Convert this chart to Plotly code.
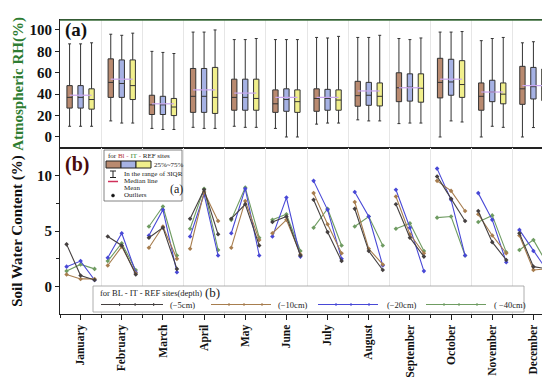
import plotly.graph_objects as go
from plotly.subplots import make_subplots

months = ["January", "February", "March", "April", "May", "June", "July",
          "August", "September", "October", "November", "December"]

# Panel (a): atmospheric RH box statistics (BL, IT, REF)
bl_hi = [87, 96, 80, 98, 91, 91, 93, 93, 92, 98, 90, 88]
bl_q3 = [48, 73, 39, 64, 54, 44, 45, 52, 60, 73.5, 50.5, 66]
bl_med = [37, 51, 30, 38, 37, 31, 36, 38.6, 46, 51, 38, 45]
bl_q1 = [27, 37, 21, 23, 25, 23, 24, 28.7, 33, 36.5, 25, 30.5]
bl_lo = [10, 15, 8, 9, 10, 8, 12, 16, 12.5, 0, 0, 0]

it_hi = [87, 95, 79, 98, 91, 91, 92.5, 93, 91, 98, 92, 89]
it_q3 = [48, 72, 38, 64, 54, 45, 44.5, 51, 59, 72.6, 53, 65]
it_med = [37, 50, 30, 38, 37, 35, 36, 39, 46.5, 51.4, 42, 47]
it_q1 = [27, 37, 21, 23, 25, 24, 25, 29.6, 33.5, 39, 33, 35.5]
it_lo = [10, 13, 7, 8, 9, 0, 13, 15, 13, 15, 10, 8.8]

ref_hi = [88, 97, 78, 100, 92, 91, 94, 95, 92.5, 98.5, 93, 89]
ref_q3 = [45, 72, 36, 65, 54, 44, 44, 50.5, 59, 71.3, 50.5, 63.5]
ref_med = [35, 48, 28, 37, 36, 33, 34.5, 38, 45.5, 49, 40, 45]
ref_q1 = [26, 35, 20, 22, 25, 23, 25, 29, 32.5, 37, 31, 34]
ref_lo = [10, 13, 7, 8, 9, 0, 13, 15, 13, 14, 9, 8]

rh_mean = [39, 54, 31, 44, 41, 37, 37, 43, 46, 54, 42, 48]

# Panel (b): soil water content per month, (BL, IT, REF) per depth
d5 = [[3.8, 1.0, 0.6], [4.5, 3.7, 1.1], [4.4, 5.3, 1.6], [6.1, 8.7, 4.7], [6.1, 7.4, 3.7], [5.8, 6.3, 2.8],
      [7.8, 4.9, 2.3], [7.0, 3.2, 1.5], [7.4, 4.4, 2.7], [9.9, 7.9, 5.9], [6.8, 4.0, 2.4], [4.8, 1.8, 1.6]]
d10 = [[1.1, 0.7, 0.7], [1.9, 3.6, 1.2], [3.5, 5.4, 2.5], [3.4, 8.5, 5.9], [3.5, 7.7, 4.2], [4.8, 6.0, 2.9],
       [8.4, 5.6, 3.0], [7.6, 3.4, 2.0], [8.1, 4.7, 3.0], [9.5, 8.6, 6.8], [6.5, 4.6, 3.0], [4.6, 1.5, 1.6]]
d20 = [[1.8, 2.3, 0.6], [2.6, 4.8, 1.3], [4.6, 6.9, 1.3], [4.5, 8.3, 2.8], [4.8, 8.8, 2.8], [4.5, 8.0, 2.7],
       [9.5, 6.9, 2.5], [8.5, 6.3, 1.9], [8.7, 5.3, 1.4], [10.6, 7.8, 2.8], [8.4, 6.0, 2.2], [5.1, 3.2, 1.4]]
d40 = [[1.4, 2.0, 1.6], [2.3, 3.9, 1.5], [5.4, 7.2, 2.8], [5.2, 8.8, 3.3], [6.0, 8.9, 4.4], [6.0, 6.5, 3.2],
       [5.3, 7.0, 3.7], [5.4, 6.3, 3.7], [5.2, 5.7, 3.2], [6.2, 6.3, 2.8], [5.8, 6.4, 3.1], [3.3, 4.2, 2.0]]
depth_names = ["(\u22125cm)", "(\u221210cm)", "(\u221220cm)", "( \u221240cm)"]
depth_colors = ["#454040", "#a77d4e", "#4848d6", "#6f9c62"]

SERIF = "Liberation Serif"
W, H = 550, 377
L, R, T, B = 52, 4, 12, 71
PW, PH = W - L - R, H - T - B


def px(x):
    return (x - L) / PW


def py(y):
    return (H - B - y) / PH


split = py(140)
fig = make_subplots(rows=2, cols=1, shared_xaxes=True, vertical_spacing=0,
                    row_heights=[1 - split, split])

nums = list(range(1, 13))
box_off = 0.267
sites = [
    (-box_off, bl_q1, bl_med, bl_q3, bl_lo, bl_hi, "#b98a70"),
    (0.0, it_q1, it_med, it_q3, it_lo, it_hi, "#a6b2e4"),
    (box_off, ref_q1, ref_med, ref_q3, ref_lo, ref_hi, "#f1ef8c"),
]
for off, q1, med, q3, lo, hi, col in sites:
    fig.add_trace(go.Box(x=[n + off for n in nums], q1=q1, median=med, q3=q3,
                         lowerfence=lo, upperfence=hi, width=0.13, whiskerwidth=0.55,
                         fillcolor=col, line=dict(color="#333333", width=1),
                         boxpoints=False, showlegend=False, hoverinfo="skip"), row=1, col=1)

mx, my = [], []
for n, m in zip(nums, rh_mean):
    mx += [n - box_off, n + box_off, None]
    my += [m, m, None]
fig.add_trace(go.Scatter(x=mx, y=my, mode="lines", line=dict(color="#c9a6ee", width=1.2),
                         showlegend=False, hoverinfo="skip"), row=1, col=1)

# Panel (b) lines
pt_off = 0.34
for idx, data in [(3, d40), (2, d20), (1, d10), (0, d5)]:
    col = depth_colors[idx]
    xs, ys = [], []
    for n, trip in zip(nums, data):
        xs += [n - pt_off, n, n + pt_off, None]
        ys += trip + [None]
    fig.add_trace(go.Scatter(x=xs, y=ys, mode="lines+markers", name=depth_names[idx],
                             line=dict(color=col, width=1.1),
                             marker=dict(color=col, size=3.5, symbol="diamond"),
                             showlegend=False), row=2, col=1)

fig.update_xaxes(range=[0.5, 12.5], tickmode="array", tickvals=nums, ticktext=months,
                 tickangle=-90, tickfont=dict(family=SERIF, size=11.5, color="#111111", weight="bold"),
                 ticks="outside", ticklen=5, tickcolor="#222", showgrid=False,
                 showline=True, linecolor="#222", linewidth=1.2, mirror=True, zeroline=False,
                 minor=dict(tickmode="linear", tick0=0.5, dtick=1, ticks="outside", ticklen=3,
                            tickcolor="#222", showgrid=True, gridcolor="#e6e6e6", gridwidth=1))
fig.update_xaxes(showticklabels=False, ticks="", minor_ticks="", row=1, col=1)

fig.update_yaxes(range=[-10.3, 109.3], tickvals=[0, 20, 40, 60, 80, 100],
                 tickfont=dict(family=SERIF, size=15, color="#111111", weight="bold"),
                 ticks="outside", ticklen=4, tickcolor="#222", showgrid=False, zeroline=False,
                 showline=True, linecolor="#222", linewidth=1.2, mirror=True,
                 title=dict(text="Atmospheric RH(%)", standoff=2,
                            font=dict(family=SERIF, size=15, color="#2e7d32", weight="bold")),
                 row=1, col=1)
fig.update_yaxes(range=[-2.45, 12.45], tickvals=[0, 5, 10],
                 tickfont=dict(family=SERIF, size=15, color="#111111", weight="bold"),
                 ticks="outside", ticklen=4, tickcolor="#222", showgrid=False, zeroline=False,
                 showline=True, linecolor="#222", linewidth=1.2, mirror=True,
                 minor=dict(tickmode="linear", tick0=0, dtick=2.5, ticks="outside", ticklen=3, tickcolor="#222"),
                 title=dict(text="Soil Water Content (%)", standoff=10,
                            font=dict(family=SERIF, size=15, color="#111111", weight="bold")),
                 row=2, col=1)

shapes = []
annots = []
shapes.append(dict(type="line", xref="paper", yref="paper", x0=0, x1=1, y0=1, y1=1,
                   line=dict(color="#3b6e3b", width=1.5)))

annots.append(dict(xref="paper", yref="paper", x=px(55), y=py(22), xanchor="left", yanchor="middle",
                   text="<b>(a)</b>", showarrow=False, font=dict(family=SERIF, size=19, color="#111")))
annots.append(dict(xref="paper", yref="paper", x=px(55), y=py(156), xanchor="left", yanchor="middle",
                   text="<b>(b)</b>", showarrow=False, font=dict(family=SERIF, size=20, color="#4a0a0a")))

# Custom key for panel (a)
shapes.append(dict(type="rect", xref="paper", yref="paper", x0=px(96), x1=px(174), y0=py(193), y1=py(142),
                   line=dict(color="#666", width=0.8), fillcolor="white"))
small = dict(family=SERIF, size=7, color="#222")
annots.append(dict(xref="paper", yref="paper", x=px(98), y=py(147.5), xanchor="left", yanchor="middle",
                   showarrow=False, font=small,
                   text="for <span style='color:#b03030'>Bl</span> <span style='color:#c05070'>-</span> "
                        "<span style='color:#3a8a3a'>IT</span> <span style='color:#c05070'>-</span> REF sites"))
for x0, col in [(98, "#b98a70"), (113, "#a6b2e4"), (128, "#f1ef8c")]:
    shapes.append(dict(type="rect", xref="paper", yref="paper", x0=px(x0), x1=px(x0 + 15),
                       y0=py(160), y1=py(153), fillcolor=col, line=dict(color="#222", width=1)))
annots.append(dict(xref="paper", yref="paper", x=px(144), y=py(156.5), xanchor="left", yanchor="middle",
                   showarrow=False, font=small, text="25%~75%"))
shapes.append(dict(type="line", xref="paper", yref="paper", x0=px(105), x1=px(105), y0=py(169.5), y1=py(163),
                   line=dict(color="#222", width=1)))
for yy in (163, 169.5):
    shapes.append(dict(type="line", xref="paper", yref="paper", x0=px(102), x1=px(108), y0=py(yy), y1=py(yy),
                       line=dict(color="#222", width=1)))
annots.append(dict(xref="paper", yref="paper", x=px(114), y=py(166), xanchor="left", yanchor="middle",
                   showarrow=False, font=small, text="In the range of 3IQR"))
shapes.append(dict(type="line", xref="paper", yref="paper", x0=px(100), x1=px(110), y0=py(173.5), y1=py(173.5),
                   line=dict(color="#d0305a", width=1.5)))
annots.append(dict(xref="paper", yref="paper", x=px(114), y=py(173.3), xanchor="left", yanchor="middle",
                   showarrow=False, font=small, text="Median line"))
annots.append(dict(xref="paper", yref="paper", x=px(114), y=py(180.4), xanchor="left", yanchor="middle",
                   showarrow=False, font=small, text="Mean"))
shapes.append(dict(type="circle", xref="paper", yref="paper", x0=px(103.5), x1=px(106.5),
                   y0=py(189), y1=py(186), fillcolor="#111", line=dict(color="#111", width=0.5)))
annots.append(dict(xref="paper", yref="paper", x=px(114), y=py(187.5), xanchor="left", yanchor="middle",
                   showarrow=False, font=small, text="Outliers"))
annots.append(dict(xref="paper", yref="paper", x=px(160), y=py(181), xanchor="left", yanchor="middle",
                   showarrow=False, font=dict(family=SERIF, size=12, color="#222"), text="(a)"))

# Custom key for panel (b)
shapes.append(dict(type="rect", xref="paper", yref="paper", x0=px(85), x1=px(516), y0=py(304), y1=py(278),
                   line=dict(color="#999", width=0.8), fillcolor="white"))
annots.append(dict(xref="paper", yref="paper", x=px(90), y=py(285), xanchor="left", yanchor="middle",
                   showarrow=False, font=dict(family=SERIF, size=8.5, color="#222"),
                   text="for BL - IT - REF sites(depth)"))
annots.append(dict(xref="paper", yref="paper", x=px(195), y=py(284.5), xanchor="left", yanchor="middle",
                   showarrow=False, font=dict(family=SERIF, size=13, color="#222"), text="(b)"))
samples = [(93, 155, 160), (203, 263, 268), (310, 370, 377), (418, 478, 484)]
for i, (s0, s1, tx) in enumerate(samples):
    col = depth_colors[i]
    shapes.append(dict(type="line", xref="paper", yref="paper", x0=px(s0), x1=px(s1), y0=py(296.5), y1=py(296.5),
                       line=dict(color=col, width=1.1)))
    for f in (0.3, 0.55, 0.85):
        xm = s0 + f * (s1 - s0)
        shapes.append(dict(type="line", xref="paper", yref="paper", x0=px(xm), x1=px(xm),
                           y0=py(298), y1=py(295), line=dict(color=col, width=1)))
    annots.append(dict(xref="paper", yref="paper", x=px(tx), y=py(296.5), xanchor="left", yanchor="middle",
                       showarrow=False, font=dict(family=SERIF, size=8.5, color="#222"), text=depth_names[i]))

fig.update_layout(
    width=W, height=H, margin=dict(l=L, r=R, t=T, b=B),
    paper_bgcolor="white", plot_bgcolor="white", boxmode="overlay", showlegend=False,
    shapes=shapes, annotations=annots,
)

fig.write_html("out.html")
